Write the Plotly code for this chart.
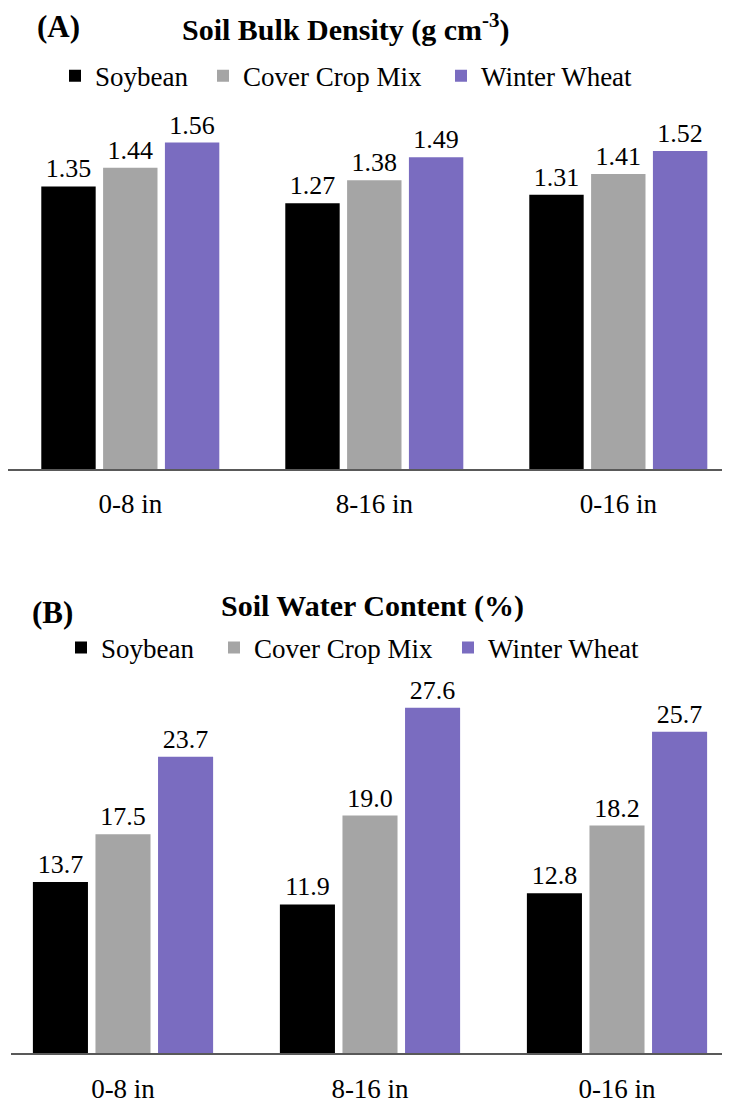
import plotly.graph_objects as go

categories = ["0-8 in", "8-16 in", "0-16 in"]
series_names = ["Soybean", "Cover Crop Mix", "Winter Wheat"]
bulk_density = {
    "Soybean": [1.35, 1.27, 1.31],
    "Cover Crop Mix": [1.44, 1.38, 1.41],
    "Winter Wheat": [1.56, 1.49, 1.52],
}
water_content = {
    "Soybean": [13.7, 11.9, 12.8],
    "Cover Crop Mix": [17.5, 19.0, 18.2],
    "Winter Wheat": [23.7, 27.6, 25.7],
}
colors = {"Soybean": "#000000", "Cover Crop Mix": "#A5A5A5", "Winter Wheat": "#7A6CC0"}

FONT = "Liberation Serif"
fs = 26

# page is drawn inside an 8px body margin
OFF = 8
W, H = 730 - OFF, 1112 - 2 * OFF


def px(x):
    return (x - OFF) / W


def py(y):
    return 1 - (y - OFF) / H


legend_A_x = [75, 223, 461]   # symbol centres (page px)
legend_B_x = [81, 234, 468]
legend_A_y, legend_B_y = 77, 655

fig = go.Figure()
for i, name in enumerate(series_names):
    fig.add_trace(go.Bar(
        x=categories, y=bulk_density[name], name=name,
        marker=dict(color=colors[name], line=dict(width=0)),
        texttemplate="%{y:.2f}", textposition="outside", cliponaxis=False,
        textfont=dict(family=FONT, size=fs, color="black"),
        xaxis="x", yaxis="y", legend="legend" if i == 0 else f"legend{i + 1}",
    ))
for i, name in enumerate(series_names):
    fig.add_trace(go.Bar(
        x=categories, y=water_content[name], name=name,
        marker=dict(color=colors[name], line=dict(width=0)),
        texttemplate="%{y:.1f}", textposition="outside", cliponaxis=False,
        textfont=dict(family=FONT, size=fs, color="black"),
        xaxis="x2", yaxis="y2", legend=f"legend{i + 4}",
    ))

axis_common = dict(
    type="category", showline=True, linecolor="#595959", linewidth=2,
    ticks="", showgrid=False, zeroline=False,
    tickfont=dict(family=FONT, size=27, color="black"),
    ticklabelstandoff=10,
)
yaxis_common = dict(visible=False, showgrid=False, zeroline=False)

legend_common = dict(
    orientation="h", xanchor="left", yanchor="middle",
    font=dict(family=FONT, size=27, color="black"),
    bgcolor="rgba(0,0,0,0)", borderwidth=0, itemclick=False, itemdoubleclick=False,
)

legends = {}
for i, cx in enumerate(legend_A_x):
    key = "legend" if i == 0 else f"legend{i + 1}"
    legends[key] = dict(x=px(cx - 20), y=py(legend_A_y), **legend_common)
for i, cx in enumerate(legend_B_x):
    legends[f"legend{i + 4}"] = dict(x=px(cx - 20), y=py(legend_B_y), **legend_common)

cA, stepA = 130.3, 244.0
cB, stepB = 123.0, 247.0

fig.update_layout(
    width=W, height=H,
    margin=dict(l=0, r=0, t=0, b=0),
    paper_bgcolor="white", plot_bgcolor="white",
    barmode="group", bargap=0.24, bargroupgap=0.12,
    xaxis=dict(domain=[px(8), 1], range=[(8 - cA) / stepA, (730 - cA) / stepA], anchor="y", **axis_common),
    yaxis=dict(domain=[py(474), py(474 - 1.8 * 211.5)], range=[0, 1.8], anchor="x", **yaxis_common),
    xaxis2=dict(domain=[px(11), 1], range=[(11 - cB) / stepB, (730 - cB) / stepB], anchor="y2", **axis_common),
    yaxis2=dict(domain=[py(1065), py(1065 - 30 * 12.66)], range=[0, 30], anchor="x2", **yaxis_common),
    showlegend=True,
    annotations=[
        dict(text="<b>(A)</b>", x=px(58.5), y=py(27), xref="paper", yref="paper",
             showarrow=False, xanchor="center", yanchor="middle",
             font=dict(family=FONT, size=31, color="black")),
        dict(text="<b>Soil Bulk Density (g cm<sup>-3</sup>)</b>", x=px(346), y=py(28),
             xref="paper", yref="paper", showarrow=False, xanchor="center", yanchor="middle",
             font=dict(family=FONT, size=30, color="black")),
        dict(text="<b>(B)</b>", x=px(52.5), y=py(619), xref="paper", yref="paper",
             showarrow=False, xanchor="center", yanchor="middle",
             font=dict(family=FONT, size=31, color="black")),
        dict(text="<b>Soil Water Content (%)</b>", x=px(372.5), y=py(613),
             xref="paper", yref="paper", showarrow=False, xanchor="center", yanchor="middle",
             font=dict(family=FONT, size=30, color="black")),
    ],
    **legends,
)

fig.write_html("out.html")
